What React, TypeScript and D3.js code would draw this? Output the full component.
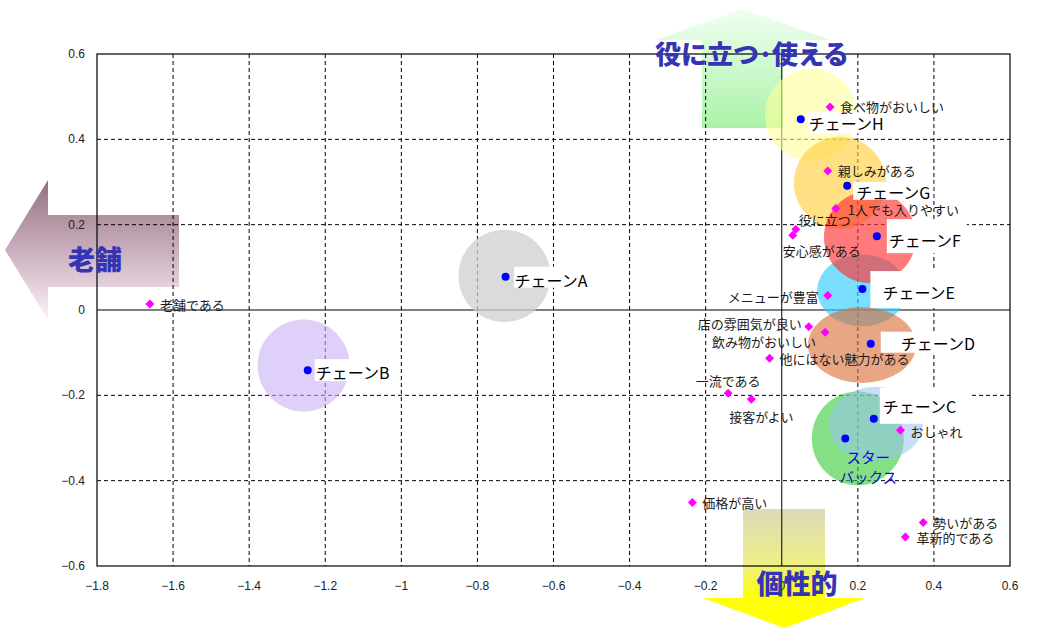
import React from 'react';
import * as d3 from 'd3';

// ---------- data ----------
const xTicks = [-1.8, -1.6, -1.4, -1.2, -1, -0.8, -0.6, -0.4, -0.2, 0, 0.2, 0.4, 0.6];
const yTicks = [-0.6, -0.4, -0.2, 0, 0.2, 0.4, 0.6];

const chainNames = ['チェーンA', 'チェーンB', 'チェーンC', 'スターバックス', 'チェーンD', 'チェーンE', 'チェーンF', 'チェーンG', 'チェーンH'];
const chainX = [-0.726, -1.246, 0.242, 0.167, 0.234, 0.212, 0.25, 0.172, 0.05];
const chainY = [0.078, -0.141, -0.255, -0.301, -0.079, 0.049, 0.173, 0.291, 0.447];

// bubble series (centre and size along x / y, in axis units)
const bubbleNames = ['チェーンA', 'チェーンB', 'チェーンH', 'チェーンG', 'チェーンE', 'チェーンF', 'チェーンD', 'スターバックス', 'チェーンC'];
const bubbleX = [-0.729, -1.257, 0.077, 0.153, 0.211, 0.232, 0.211, 0.2, 0.247];
const bubbleY = [0.08, -0.13, 0.457, 0.298, 0.046, 0.171, -0.082, -0.301, -0.267];
const bubbleSizeX = [0.121, 0.121, 0.121, 0.121, 0.118, 0.121, 0.142, 0.121, 0.124];
const bubbleSizeY = [0.108, 0.108, 0.108, 0.108, 0.084, 0.108, 0.089, 0.11, 0.087];

const attrNames = ['食べ物がおいしい', '親しみがある', '1人でも入りやすい', '役に立つ', '安心感がある', 'メニューが豊富', '店の雰囲気が良い', '飲み物がおいしい', '他にはない魅力がある', '一流である', '接客がよい', 'おしゃれ', '価格が高い', '勢いがある', '革新的である', '老舗である'];
const attrX = [0.127, 0.121, 0.142, 0.037, 0.029, 0.121, 0.071, 0.114, -0.032, -0.141, -0.08, 0.312, -0.235, 0.372, 0.325, -1.661];
const attrY = [0.476, 0.326, 0.238, 0.189, 0.175, 0.034, -0.039, -0.052, -0.113, -0.195, -0.209, -0.282, -0.451, -0.498, -0.532, 0.014];

const axisUp = '役に立つ･使える';
const axisLeft = '老舗';
const axisDown = '個性的';

// ---------- layout / style ----------
const W = 1041;
const H = 641;
const PL = 97, PR = 1010, PT = 54, PB = 566;

const bubbleFill = ['#cfcfcf', '#c9b0f7', '#ffff99', '#ffcc33', '#33ccff', '#ff3333', '#d96a33', '#33cc33', '#99c2f0'];
const bubbleOpacity = [0.75, 0.6, 0.6, 0.6, 0.65, 0.65, 0.6, 0.6, 0.55];

type Lay = { bx: number; by: number; bw: number; bh: number; tx: number; ty: number } | null;
const chainLabelLayout: Lay[] = [
  { bx: 8.5, by: -10, bw: 78, bh: 21, tx: 9, ty: 3.5 },
  { bx: 7, by: -11, bw: 78, bh: 22, tx: 8, ty: 2 },
  { bx: 6, by: -31, bw: 90, bh: 36, tx: 9, ty: -13 },
  null,
  { bx: 10, by: -12, bw: 90, bh: 21, tx: 30, ty: -1 },
  { bx: 8, by: -18, bw: 90, bh: 37, tx: 20, ty: 3 },
  { bx: 10, by: -17, bw: 80, bh: 34, tx: 12, ty: 4 },
  { bx: 6, by: -4, bw: 80, bh: 18, tx: 9, ty: 6 },
  { bx: 7, by: -7, bw: 80, bh: 21, tx: 8, ty: 4 },
];

const attrLabelLayout: [string, number, number][] = [
  ['start', 10, 0],
  ['start', 10, 0],
  ['start', 12, 1],
  ['start', 3, -10],
  ['start', -10, 15],
  ['end', -9, 1],
  ['end', -7, -3],
  ['end', -9, 9],
  ['start', 10, 0],
  ['middle', 0, -13],
  ['middle', 10, 17],
  ['start', 10, 1],
  ['start', 10, 0],
  ['start', 10, 0],
  ['start', 11, 1],
  ['start', 10, 0],
];

const JP = '"Noto Sans CJK JP", "Noto Sans", sans-serif';

export default function App() {
  const x = d3.scaleLinear().domain([-1.8, 0.6]).range([PL, PR]);
  const y = d3.scaleLinear().domain([-0.6, 0.6]).range([PB, PT]);
  const fmt = d3.format('');
  const diamond = d3.symbol(d3.symbolSquare, 40)() as string;

  const x0 = x(0);
  const y0 = y(0);

  return (
    <svg width={W} height={H} style={{ position: 'absolute', left: 0, top: 0, display: 'block' }}>
      <defs>
        <linearGradient id="gUp" x1="0" y1="0" x2="0" y2="1">
          <stop offset="0" stopColor="#f1fff1" />
          <stop offset="1" stopColor="#a9f3a9" />
        </linearGradient>
        <linearGradient id="gLeft" x1="0" y1="0" x2="0" y2="1">
          <stop offset="0" stopColor="#93717f" />
          <stop offset="0.5" stopColor="#c9aebd" />
          <stop offset="1" stopColor="#fcf2f8" />
        </linearGradient>
        <linearGradient id="gDown" x1="0" y1="0" x2="0" y2="1">
          <stop offset="0" stopColor="#dcdab9" />
          <stop offset="0.45" stopColor="#eeee88" />
          <stop offset="0.75" stopColor="#ffff00" />
          <stop offset="1" stopColor="#ffff00" />
        </linearGradient>
      </defs>
      <rect x={0} y={0} width={W} height={H} fill="#ffffff" />

      {/* direction arrows */}
      <path d="M743,9 L831,40 L783,40 L783,128 L702,128 L702,40 L655,40 Z" fill="url(#gUp)" />
      <path d="M5,250 L48,180 L48,215 L179,215 L179,287 L48,287 L48,320 Z" fill="url(#gLeft)" />
      <path d="M743,509 L825,509 L825,598 L865,598 L784,628 L703,598 L743,598 Z" fill="url(#gDown)" />

      {/* grid */}
      {xTicks.filter((t) => t !== 0 && t > -1.8 && t < 0.6).map((t) => (
        <line key={'gx' + t} x1={x(t)} x2={x(t)} y1={PT} y2={PB} stroke="#000" strokeWidth={1} strokeDasharray="4,3" />
      ))}
      {yTicks.filter((t) => t !== 0 && t > -0.6 && t < 0.6).map((t) => (
        <line key={'gy' + t} x1={PL} x2={PR} y1={y(t)} y2={y(t)} stroke="#000" strokeWidth={1} strokeDasharray="4,3" />
      ))}
      <rect x={PL} y={PT} width={PR - PL} height={PB - PT} fill="none" stroke="#000" strokeWidth={1.2} />
      <line x1={x0} x2={x0} y1={PT} y2={PB} stroke="#000" strokeWidth={1} />
      <line x1={PL} x2={PR} y1={y0} y2={y0} stroke="#000" strokeWidth={1} />

      {/* tick labels */}
      {xTicks.map((t) => (
        <text key={'tx' + t} x={x(t)} y={586} textAnchor="middle" dominantBaseline="central" fontSize={12} fill="#222" fontFamily='"Liberation Sans", Arial, sans-serif'>
          {fmt(t)}
        </text>
      ))}
      {yTicks.map((t) => (
        <text key={'ty' + t} x={85} y={y(t)} textAnchor="end" dominantBaseline="central" fontSize={12} fill="#222" fontFamily='"Liberation Sans", Arial, sans-serif'>
          {fmt(t)}
        </text>
      ))}

      {/* bubbles */}
      {bubbleNames.map((n, i) => (
        <ellipse
          key={'b' + i}
          cx={x(bubbleX[i])}
          cy={y(bubbleY[i])}
          rx={x(bubbleSizeX[i]) - x(0)}
          ry={y(0) - y(bubbleSizeY[i])}
          fill={bubbleFill[i]}
          fillOpacity={bubbleOpacity[i]}
        />
      ))}

      {/* chain label boxes */}
      {chainNames.map((n, i) => {
        const l = chainLabelLayout[i];
        if (!l) return null;
        return <rect key={'lb' + i} x={x(chainX[i]) + l.bx} y={y(chainY[i]) + l.by} width={l.bw} height={l.bh} fill="#ffffff" />;
      })}

      {/* attribute diamonds */}
      {attrNames.map((n, i) => (
        <path key={'ad' + i} d={diamond} transform={`translate(${x(attrX[i])},${y(attrY[i])}) rotate(45)`} fill="#ff00ff" />
      ))}
      {attrNames.map((n, i) => {
        const [anchor, dx, dy] = attrLabelLayout[i];
        return (
          <text key={'at' + i} x={x(attrX[i]) + dx} y={y(attrY[i]) + dy} textAnchor={anchor} dominantBaseline="central" fontSize={13} fill="#1a1a1a" fontFamily={JP}>
            {n}
          </text>
        );
      })}

      {/* chain points */}
      {chainNames.map((n, i) => (
        <circle key={'cp' + i} cx={x(chainX[i])} cy={y(chainY[i])} r={4} fill="#0000ff" />
      ))}
      {chainNames.map((n, i) => {
        const l = chainLabelLayout[i];
        if (!l) {
          return (
            <text key={'cl' + i} x={x(chainX[i]) + 23} y={y(chainY[i]) + 19} textAnchor="middle" fontSize={14.5} fill="#0a0ad0" fontFamily={JP}>
              <tspan x={x(chainX[i]) + 23} dy="0.35em">{n.slice(0, 3)}</tspan>
              <tspan x={x(chainX[i]) + 23} dy="20">{n.slice(3)}</tspan>
            </text>
          );
        }
        return (
          <text key={'cl' + i} x={x(chainX[i]) + l.tx} y={y(chainY[i]) + l.ty} dominantBaseline="central" fontSize={16} fill="#000" fontFamily={JP}>
            {n}
          </text>
        );
      })}

      {/* axis meaning labels */}
      <text x={752} y={52} textAnchor="middle" dominantBaseline="central" fontSize={26} fontWeight={900} fill="#3434b4" fontFamily={JP}>
        {axisUp}
      </text>
      <text x={95} y={258} textAnchor="middle" dominantBaseline="central" fontSize={27} fontWeight={900} fill="#3434b4" fontFamily={JP}>
        {axisLeft}
      </text>
      <text x={797} y={582} textAnchor="middle" dominantBaseline="central" fontSize={27} fontWeight={900} fill="#3434b4" fontFamily={JP}>
        {axisDown}
      </text>
    </svg>
  );
}
